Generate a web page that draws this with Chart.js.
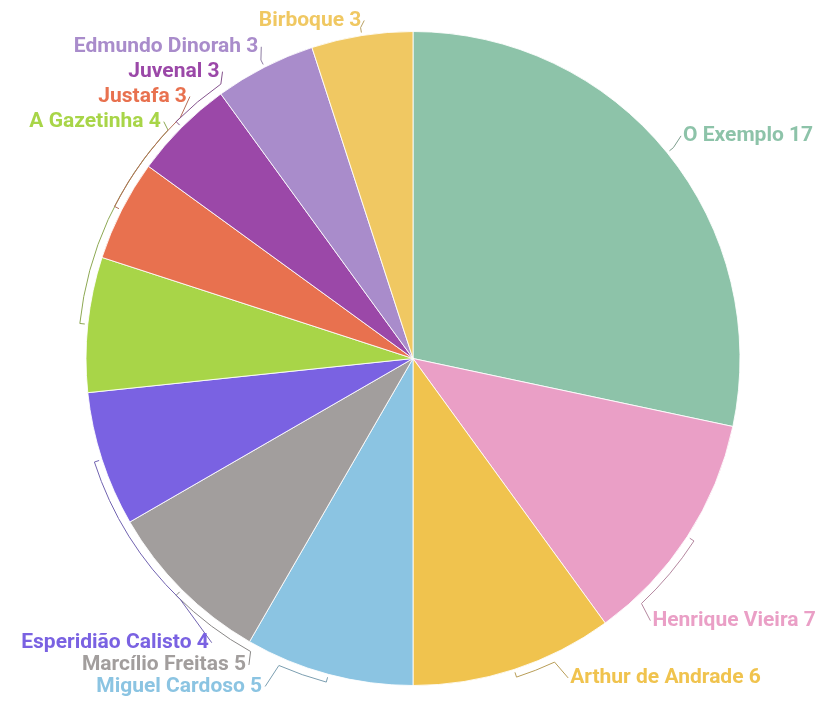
<!DOCTYPE html>
<html><head><meta charset="utf-8">
<script src="https://cdn.jsdelivr.net/npm/chart.js@4"></script>
<style>html,body{margin:0;padding:0;background:#fff}#wrap{width:819px;height:706px;position:relative}</style>
</head><body><div id="wrap"><canvas id="c"></canvas></div>
<script>
const categories = ['O Exemplo','Henrique Vieira','Arthur de Andrade','Miguel Cardoso','Marcílio Freitas','Esperidião Calisto','A Gazetinha','Justafa','Juvenal','Edmundo Dinorah','Birboque'];
const values = [17,7,6,5,5,4,4,3,3,3,3];
const colors = ['#8dc3a9','#ea9fc6','#f0c34e','#8bc4e2','#a29e9d','#7a62e2','#a8d548','#e8714f','#9b48a8','#a98ccb','#f0c862'];
// label layout, relative to each slice's mid angle (degrees) and distance beyond the rim (px)
const exitShift  = [0, 14, -7, 8.6, -16, -28, 37, 19, 10, 0, 0];
const labelShift = [-0.5, 14.6, -8.2, 9.7, -16.4, -36.3, 37.2, 22.2, 11, 0.6, 0.3];
const labelDist  = [23, 28, 29, 34, 22, 23, 19, 19, 19, 21, 15];

function mix(hex){
  const n=parseInt(hex.slice(1),16);
  const r=(n>>16)&255,g=(n>>8)&255,b=n&255,k=0.4,gr=100;
  return `rgb(${Math.round(r*(1-k)+gr*k)},${Math.round(g*(1-k)+gr*k)},${Math.round(b*(1-k)+gr*k)})`;
}

const leaderPlugin = {
  id:'leaders',
  afterDatasetsDraw(chart){
    const ctx = chart.ctx;
    const meta = chart.getDatasetMeta(0);
    const d2r = Math.PI/180;
    ctx.save();
    meta.data.forEach((arc,i)=>{
      const {x,y,startAngle,endAngle,outerRadius} = arc.getProps(['x','y','startAngle','endAngle','outerRadius'], true);
      const mid = (startAngle+endAngle)/2;
      const exitA = mid + exitShift[i]*d2r;
      const labA = mid + labelShift[i]*d2r;
      const rb = outerRadius + 8;
      const pt = (a,r)=>[x+Math.cos(a)*r, y+Math.sin(a)*r];
      const lp = pt(labA, outerRadius+labelDist[i]);
      const right = Math.cos(labA) > 0;
      ctx.strokeStyle = mix(colors[i]);
      ctx.lineWidth = 1;
      ctx.beginPath();
      const p0 = pt(mid, outerRadius+3);
      ctx.moveTo(p0[0],p0[1]);
      const p1 = pt(mid, rb);
      ctx.lineTo(p1[0],p1[1]);
      if (exitShift[i] !== 0) ctx.arc(x,y,rb,mid,exitA, exitA<mid);
      ctx.lineTo(lp[0] + (right?-2:3), lp[1]);
      ctx.stroke();
      ctx.fillStyle = colors[i];
      ctx.font = 'bold 21px Roboto';
      ctx.textAlign = right?'left':'right';
      ctx.textBaseline='middle';
      ctx.fillText(categories[i] + ' ' + values[i], lp[0], lp[1]);
    });
    ctx.restore();
  }
};

new Chart(document.getElementById('c'), {
  type:'pie',
  data:{labels:categories, datasets:[{data:values, backgroundColor:colors, borderColor:'rgba(255,255,255,0.85)', borderWidth:1}]},
  options:{
    responsive:true, maintainAspectRatio:false, animation:false,
    layout:{padding:{top:31,bottom:20,left:7,right:0}},
    plugins:{legend:{display:false}, tooltip:{enabled:false}}
  },
  plugins:[leaderPlugin]
});
</script></body></html>
